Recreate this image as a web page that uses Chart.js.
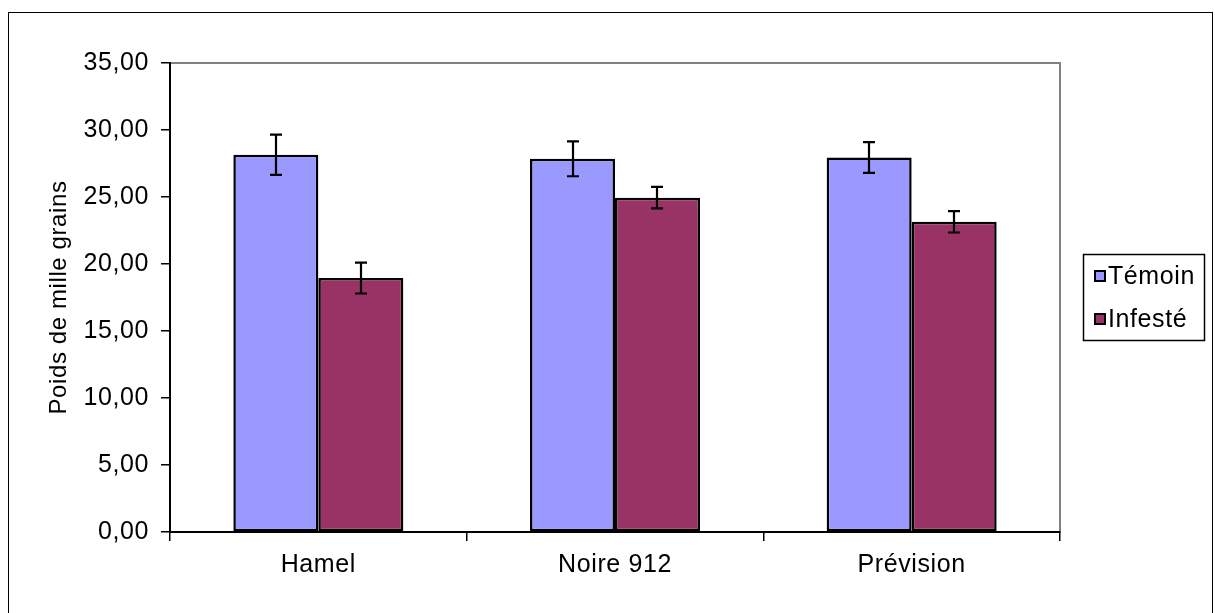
<!DOCTYPE html>
<html>
<head>
<meta charset="utf-8">
<script src="https://cdn.jsdelivr.net/npm/chart.js@4"></script>
<style>
    html, body { margin: 0; padding: 0; background: #fff; overflow: hidden; }
    #frame {
        position: absolute; left: 8px; top: 12px;
        width: 1205px; height: 620px;
        border: 1.5px solid #000; box-sizing: border-box;
    }
    #chart { position: absolute; left: 0; top: 0; }
</style>
</head>
<body>
<div id="frame"></div>
<canvas id="chart" width="1215" height="613"></canvas>
<script>
const categories = ["Hamel", "Noire 912", "Prévision"];
const seriesNames = ["Témoin", "Infesté"];
const temoin = [28.15, 27.85, 27.95];
const infeste = [18.95, 24.95, 23.15];
const temoinErr = [1.5, 1.3, 1.15];
const infesteErr = [1.15, 0.8, 0.8];
const yTicks = [0, 5, 10, 15, 20, 25, 30, 35];

const FONT = "'Liberation Sans', Arial, sans-serif";
const colors = ["#9999FF", "#993366"];

// spread the glyphs a little, like the old office renderer
const spacing = {
    id: "spacing",
    beforeUpdate(chart) { chart.ctx.letterSpacing = "0.6px"; },
    beforeDraw(chart) { chart.ctx.letterSpacing = "0.6px"; },
};

// plot frame: grey top/right edge, axes draw the left/bottom in black
const plotFrame = {
    id: "plotFrame",
    beforeDraw(chart) {
        const { ctx, chartArea: a } = chart;
        ctx.save();
        ctx.strokeStyle = "#808080";
        ctx.lineWidth = 2;
        ctx.strokeRect(a.left, a.top, a.right - a.left, a.bottom - a.top);
        ctx.restore();
    },
};

// standard deviation whiskers
const errorBars = {
    id: "errorBars",
    afterDatasetsDraw(chart) {
        const { ctx } = chart;
        const y = chart.scales.y;
        ctx.save();
        ctx.strokeStyle = "#000";
        ctx.lineWidth = 2.2;
        chart.data.datasets.forEach((ds, di) => {
            chart.getDatasetMeta(di).data.forEach((bar, i) => {
                const v = ds.data[i], e = ds.err[i];
                const top = y.getPixelForValue(v + e);
                const bot = y.getPixelForValue(v - e);
                const x = Math.round(bar.x);
                ctx.beginPath();
                ctx.moveTo(x, top); ctx.lineTo(x, bot);
                ctx.moveTo(x - 6, top); ctx.lineTo(x + 6, top);
                ctx.moveTo(x - 6, bot); ctx.lineTo(x + 6, bot);
                ctx.stroke();
            });
        });
        ctx.restore();
    },
};

// boxed legend on the right
const boxLegend = {
    id: "boxLegend",
    afterDraw(chart) {
        const { ctx } = chart;
        ctx.save();
        ctx.letterSpacing = "0.6px";
        ctx.strokeStyle = "#000";
        ctx.lineWidth = 1.5;
        ctx.strokeRect(1083.5, 254.5, 121, 86);
        ctx.font = "25px " + FONT;
        ctx.textBaseline = "middle";
        const rows = [276, 319];
        chart.data.datasets.forEach((ds, i) => {
            ctx.fillStyle = ds.backgroundColor;
            ctx.fillRect(1095, rows[i] - 5, 10, 10);
            ctx.lineWidth = 2;
            ctx.strokeRect(1095, rows[i] - 5, 10, 10);
            ctx.fillStyle = "#000";
            ctx.fillText(ds.label, 1108, rows[i] + 1);
        });
        ctx.restore();
    },
};

new Chart(document.getElementById("chart"), {
    type: "bar",
    data: {
        labels: categories,
        datasets: [
            { label: seriesNames[0], data: temoin, err: temoinErr, backgroundColor: colors[0] },
            { label: seriesNames[1], data: infeste, err: infesteErr, backgroundColor: colors[1] },
        ].map(d => Object.assign(d, {
            borderColor: "#000",
            borderWidth: 2.5,
            borderSkipped: false,
            categoryPercentage: 0.573,
            barPercentage: 1.0,
        })),
    },
    options: {
        responsive: false,
        animation: false,
        events: [],
        layout: { padding: { top: 63, right: 155, left: 0, bottom: 0 } },
        plugins: {
            legend: { display: false },
            tooltip: { enabled: false },
        },
        scales: {
            x: {
                grid: { drawOnChartArea: false, tickLength: 9, color: "#000", lineWidth: 1.5 },
                border: { color: "#000", width: 2 },
                ticks: { color: "#000", font: { family: FONT, size: 25 }, padding: 9, maxRotation: 0 },
                afterFit(scale) { scale.height = 81; },
            },
            y: {
                min: 0,
                max: 35,
                afterBuildTicks(scale) { scale.ticks = yTicks.map(v => ({ value: v })); },
                grid: { drawOnChartArea: false, tickLength: 9, color: "#000", lineWidth: 1.5 },
                border: { color: "#000", width: 2 },
                ticks: {
                    color: "#000",
                    font: { family: FONT, size: 25 },
                    padding: 12,
                    callback: v => v.toFixed(2).replace(".", ","),
                },
                title: {
                    display: true,
                    text: "Poids de mille grains",
                    color: "#000",
                    font: { family: FONT, size: 24 },
                    padding: { top: 45, bottom: 0 },
                },
                afterFit(scale) { scale.width = 170; },
            },
        },
    },
    plugins: [spacing, plotFrame, errorBars, boxLegend],
});
</script>
</body>
</html>
